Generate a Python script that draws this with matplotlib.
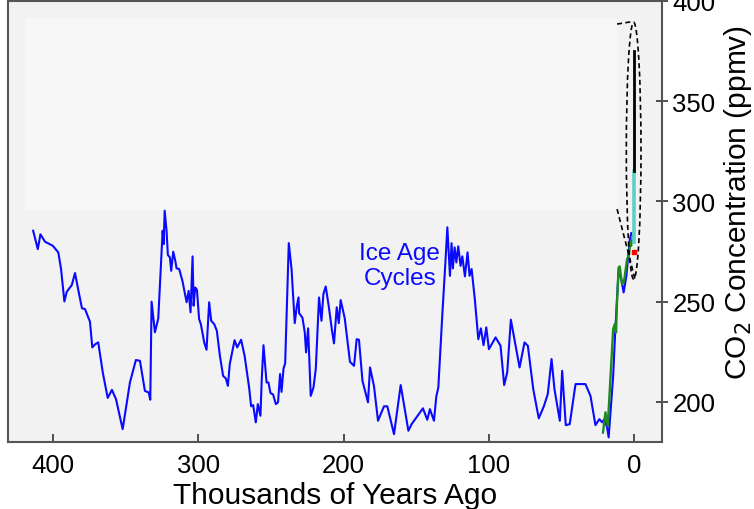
import numpy as np
import matplotlib
matplotlib.use('Agg')
from matplotlib import pyplot as plt
from matplotlib.patches import Ellipse, Rectangle

plt.rcParams['font.family'] = ['Liberation Sans', 'DejaVu Sans']

# Vostok ice core CO2 (thousands of years ago, ppmv)
vostok_age = [413.7, 410.5, 408.7, 405.5, 400.2, 396.4, 394.5, 392.2, 390.6, 387.1,
              384.9, 382.3, 380.1, 378.0, 374.6, 373.0, 371.1, 368.9, 365.8, 362.4,
              359.5, 356.7, 352.1, 347.1, 343.0, 340.2, 336.8, 334.2, 333.1, 332.2,
              329.9, 327.6, 325.1, 324.6, 323.9, 323.2, 321.9, 321.0, 319.6, 318.7,
              317.3, 315.9, 315.0, 313.2, 310.9, 308.1, 306.7, 305.4, 304.0, 303.3,
              302.2, 301.0, 299.5, 298.3, 296.0, 294.4, 292.6, 291.2, 289.1, 287.3,
              285.2, 283.0, 281.1, 279.7, 278.4, 275.1, 273.3, 270.6, 268.2, 265.1,
              263.7, 262.3, 260.5, 259.1, 257.3, 256.4, 255.2, 253.1, 251.8, 250.4,
              248.6, 246.7, 245.2, 243.8, 242.8, 241.4, 240.3, 237.8, 235.9, 233.7,
              232.3, 231.1, 230.7, 228.4, 226.8, 225.9, 224.5, 222.7, 220.8, 219.2,
              217.0, 215.3, 214.0, 212.4, 210.3, 208.2, 206.7, 204.8, 203.4, 202.1,
              199.3, 197.0, 195.7, 192.9, 191.1, 189.5, 187.1, 183.3, 181.9, 179.2,
              176.4, 172.3, 170.0, 165.4, 160.8, 155.5, 153.3, 145.5, 142.5, 140.7,
              137.9, 136.3, 134.9, 132.2, 129.9, 128.7, 127.8, 126.9, 125.8, 124.9,
              123.7, 122.5, 121.2, 119.6, 118.4, 116.6, 114.8, 113.4, 112.0, 109.8,
              107.4, 105.6, 103.8, 101.9, 100.1, 95.5, 92.1, 89.6, 87.5, 85.0,
              79.0, 75.6, 73.3, 69.6, 65.8, 62.3, 59.6, 57.0, 55.0, 51.3,
              49.7, 47.2, 44.5, 40.5, 33.7, 30.2, 26.8, 24.1, 22.2, 20.6,
              18.8, 17.7, 14.6, 13.1, 10.8, 9.1, 7.4, 5.5, 3.2, 2.1]
vostok_co2 = [285.4, 276.2, 283.6, 279.9, 277.9, 274.6, 266.3, 250.1, 254.9, 258.3,
              264.3, 254.6, 246.7, 246.3, 240.0, 227.2, 228.7, 229.7, 214.7, 202.0,
              206.0, 201.4, 186.4, 209.7, 220.9, 220.5, 205.5, 204.7, 201.1, 250.0,
              234.7, 241.7, 277.9, 285.4, 278.7, 295.4, 285.4, 273.3, 272.1, 265.4,
              274.9, 270.4, 266.6, 266.3, 260.1, 249.7, 255.4, 244.7, 272.6, 248.0,
              257.1, 255.9, 241.3, 238.8, 229.7, 226.0, 249.7, 240.5, 238.8, 235.5,
              223.0, 213.0, 211.7, 208.0, 218.9, 230.8, 227.2, 231.0, 223.0, 207.2,
              197.8, 198.4, 189.8, 198.9, 193.1, 211.4, 228.3, 209.7, 209.7, 204.4,
              203.7, 198.9, 199.8, 213.9, 205.0, 216.7, 219.2, 279.2, 266.3, 239.3,
              247.7, 252.1, 244.3, 242.0, 234.7, 224.7, 236.7, 203.0, 207.2, 216.7,
              252.1, 240.5, 253.8, 257.6, 247.7, 236.3, 229.2, 247.2, 239.3, 250.8,
              241.7, 228.0, 220.0, 218.0, 231.3, 231.0, 210.5, 199.8, 217.2, 208.0,
              190.6, 197.8, 197.8, 183.9, 208.4, 185.6, 188.9, 196.8, 191.1, 196.4,
              190.6, 202.7, 207.2, 243.0, 271.3, 287.1, 274.6, 262.9, 279.2, 266.6,
              277.1, 269.6, 277.6, 267.9, 272.6, 262.6, 274.6, 262.9, 266.3, 251.3,
              231.3, 236.7, 228.3, 237.2, 226.3, 232.2, 228.0, 208.4, 214.7, 241.0,
              217.2, 229.7, 228.0, 206.4, 191.8, 197.8, 203.9, 221.4, 206.4, 190.6,
              215.5, 188.4, 188.9, 208.9, 208.9, 203.0, 188.4, 191.4, 189.8, 191.4,
              187.3, 182.3, 213.0, 236.3, 266.3, 261.3, 254.6, 262.9, 280.9, 284.2]

# EPICA Dome C (last deglaciation)
epica_age = [21.6, 19.9, 18.3, 14.6, 13.5, 12.6, 11.9, 10.8, 10.1, 9.6,
             8.5, 7.4, 6.9, 5.0, 3.9, 2.7, 2.3, 0.9]
epica_co2 = [184.7, 194.8, 188.1, 236.3, 238.8, 234.7, 251.3, 267.1, 267.6, 264.6,
             258.8, 259.6, 261.3, 271.3, 272.9, 279.6, 277.9, 282.9]

# Law Dome and Mauna Loa (recent)
lawdome_age = [0.5, 0.5]
lawdome_co2 = [279.6, 315.3]
maunaloa_age = [0.5, 0.5]
maunaloa_co2 = [315.3, 375.2]
siple_age = [0.3]
siple_co2 = [274.9]

fig = plt.figure(figsize=(7.54, 5.10), dpi=100)
ax = fig.add_axes([8/754, 67/510, 654/754, 441/510])
ax.set_facecolor('#f2f2f2')

# blanked inset area
ax.add_patch(Rectangle((419.3, 295.7), 11.7 - 419.3, 391.5 - 295.7,
                       facecolor='#f7f7f7', edgecolor='none', zorder=0.5))

ax.plot(vostok_age, vostok_co2, color='#0a0aff', lw=1.5, zorder=2)
ax.plot(epica_age, epica_co2, color='#1f8a1f', lw=1.7, zorder=3)
ax.plot(lawdome_age, lawdome_co2, color='#5ed0c6', lw=2.6, zorder=3)
ax.plot(maunaloa_age, maunaloa_co2, color='black', lw=2.0, zorder=3)
ax.plot(siple_age, siple_co2, 's', color='red', ms=2.5, zorder=4)

# dashed callout ellipse
ax.add_patch(Ellipse((0.5, 325.3), 10.1, 128.1, fill=False, ls=(0, (3, 2)),
                     lw=1.2, edgecolor='black', zorder=4))
ax.plot([11.9, 1.6], [388.5, 389.7], color='black', ls=(0, (3, 2)), lw=1.2, zorder=4)
ax.plot([11.9, -0.7], [296.2, 260.4], color='black', ls=(0, (3, 2)), lw=1.2, zorder=4)

ax.text(161.5, 268.0, 'Ice Age\nCycles', color='#0a0aff', fontsize=17.5,
        ha='center', va='center', linespacing=1.2)

ax.set_xlim(431, -19)
ax.set_ylim(180, 400)
ax.set_xticks([400, 300, 200, 100, 0])
ax.set_yticks([200, 250, 300, 350, 400])

ax.yaxis.tick_right()
ax.yaxis.set_label_position('right')
ax.tick_params(axis='x', direction='in', length=6, width=1.2, labelsize=18.5,
               pad=8, color='#333333')
ax.tick_params(axis='y', direction='inout', length=9, width=1.2, labelsize=18.5,
               pad=3, color='#333333')

for sp in ax.spines.values():
    sp.set_color('#555555')
    sp.set_linewidth(1.5)

ax.set_xlabel('Thousands of Years Ago', fontsize=21.5, labelpad=3)
ax.set_ylabel('CO$_2$ Concentration (ppmv)', fontsize=21.5)
ax.yaxis.set_label_coords(1.092, 0.545)

fig.savefig('out.png', dpi=100)
